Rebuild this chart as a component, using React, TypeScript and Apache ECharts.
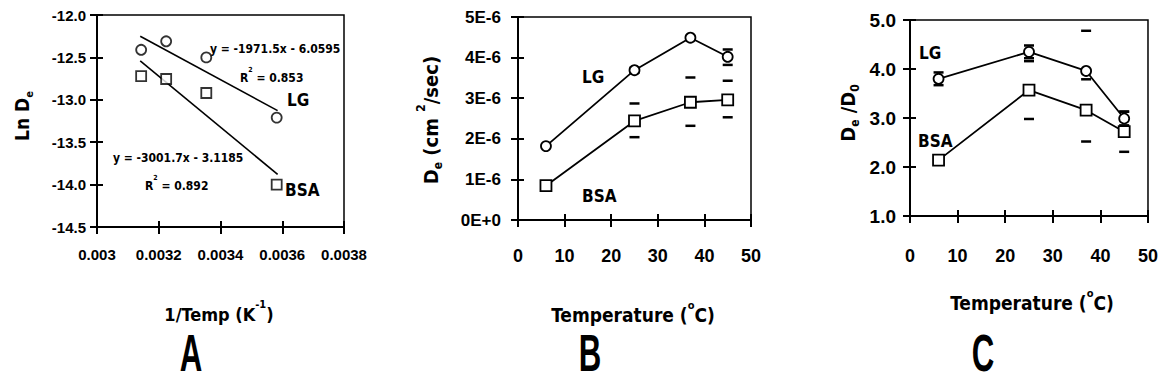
import React, { useEffect, useRef } from "react";
import * as echarts from "echarts";

// ---------- data ----------
const tempsC = [6, 25, 37, 45];
// panel A (Arrhenius plot)
const invTemp = [0.003582, 0.003354, 0.003224, 0.003143];
const lnDeLG = [-13.21, -12.5, -12.31, -12.41];
const lnDeBSA = [-14.0, -12.92, -12.755, -12.72];
const trendX = [0.00314, 0.003585];
const trendLG = [-12.25, -13.128];
const trendBSA = [-12.54, -13.88];
const aXTicks = [0.003, 0.0032, 0.0034, 0.0036, 0.0038];
// panel B (De, cm2/sec)
const deLG = [1.82e-6, 3.69e-6, 4.49e-6, 4.02e-6];
const deBSA = [0.845e-6, 2.44e-6, 2.9e-6, 2.96e-6];
const deErrLG = [[1.78e-6, 1.86e-6], [3.63e-6, 3.75e-6], [4.45e-6, 4.53e-6], [3.82e-6, 4.2e-6]];
const deErrBSA = [[0.8e-6, 0.89e-6], [2.04e-6, 2.87e-6], [2.32e-6, 3.51e-6], [2.53e-6, 3.43e-6]];
const bYLabels = ["0E+0", "1E-6", "2E-6", "3E-6", "4E-6", "5E-6"];
// panel C (De/D0)
const ratioLG = [3.8, 4.35, 3.96, 2.99];
const ratioBSA = [2.14, 3.57, 3.16, 2.72];
const ratioErrLG = [[3.67, 3.93], [4.22, 4.48], [3.14, 4.78], [2.85, 3.13]];
const ratioErrBSA = [[2.08, 2.2], [2.98, 4.16], [2.52, 3.79], [2.31, 3.13]];

const FONT = '"DejaVu Sans Condensed", "Liberation Sans Narrow", "Liberation Sans", sans-serif';
const TICKFONT = '"Liberation Sans", Arial, sans-serif';
const BLACK = "#000";

function axisPair(kind: "x" | "y", grid: number, min: number, max: number, interval: number, fmt: (v: number) => string, fontSize: number, margin: number) {
  const main: any = {
    type: "value",
    gridIndex: grid,
    min,
    max,
    interval,
    position: kind === "x" ? "bottom" : "left",
    axisLine: { show: true, onZero: false, lineStyle: { color: BLACK, width: 2 } },
    axisTick: { show: true, inside: false, length: 7, lineStyle: { color: BLACK, width: 2 } },
    splitLine: { show: false },
    axisLabel: { show: true, formatter: fmt, color: BLACK, fontFamily: TICKFONT, fontWeight: "bold", fontSize, margin, showMinLabel: true, showMaxLabel: true },
  };
  const inner: any = {
    type: "value",
    gridIndex: grid,
    min,
    max,
    interval,
    position: kind === "x" ? "bottom" : "left",
    axisLine: { show: false, onZero: false },
    axisTick: { show: true, inside: true, length: 6, lineStyle: { color: BLACK, width: 2 } },
    splitLine: { show: false },
    axisLabel: { show: false },
  };
  return [main, inner];
}

function capsRender(params: any, api: any) {
  const x = api.value(0);
  const lo = api.coord([x, api.value(1)]);
  const hi = api.coord([x, api.value(2)]);
  const w = 5;
  return {
    type: "group",
    children: [
      { type: "line", shape: { x1: lo[0] - w, y1: lo[1], x2: lo[0] + w, y2: lo[1] }, style: { stroke: BLACK, lineWidth: 2.5 } },
      { type: "line", shape: { x1: hi[0] - w, y1: hi[1], x2: hi[0] + w, y2: hi[1] }, style: { stroke: BLACK, lineWidth: 2.5 } },
    ],
  };
}

function capsSeries(axisIdx: number, err: number[][]) {
  return {
    type: "custom",
    xAxisIndex: axisIdx,
    yAxisIndex: axisIdx,
    renderItem: capsRender,
    clip: true,
    z: 1,
    data: tempsC.map((t, i) => [t, err[i][0], err[i][1]]),
    encode: { x: 0, y: [1, 2] },
  };
}

function markerLine(axisIdx: number, ys: number[], symbol: string, size: number) {
  return {
    type: "line",
    xAxisIndex: axisIdx,
    yAxisIndex: axisIdx,
    data: tempsC.map((t, i) => [t, ys[i]]),
    symbol,
    symbolSize: size,
    showSymbol: true,
    lineStyle: { color: BLACK, width: 1.8 },
    itemStyle: { color: "#fff", borderColor: BLACK, borderWidth: 1.8 },
    z: 3,
  };
}

function txt(text: string, x: number, y: number, fontSize: number, extra: any = {}) {
  return {
    type: "text",
    x,
    y,
    z: 10,
    rotation: extra.rotation || 0,
    style: {
      text,
      fill: BLACK,
      fontFamily: FONT,
      fontWeight: "bold",
      fontSize,
      textAlign: extra.align || "left",
      textVerticalAlign: "middle",
      rich: extra.rich,
    },
  };
}

const supRich = (fs: number) => ({
  n: { fontFamily: FONT, fontWeight: "bold", fontSize: fs, lineHeight: fs + 6, verticalAlign: "bottom", fill: BLACK },
  sup: { fontFamily: FONT, fontWeight: "bold", fontSize: Math.round(fs * 0.6), lineHeight: fs + 6, verticalAlign: "top", fill: BLACK },
  sub: { fontFamily: FONT, fontWeight: "bold", fontSize: Math.round(fs * 0.6), lineHeight: fs + 6, verticalAlign: "bottom", fill: BLACK, padding: [0, 0, -3, 0] },
});

function letter(t: string, x: number) {
  return {
    type: "text", x, y: 353, scaleX: 0.6, z: 10,
    style: { text: t, fill: BLACK, fontFamily: TICKFONT, fontWeight: "bold", fontSize: 52, textAlign: "center", textVerticalAlign: "middle" },
  };
}

export default function App() {
  const ref = useRef<HTMLDivElement>(null);
  useEffect(() => {
    if (!ref.current) return;
    const chart = echarts.init(ref.current, null, { renderer: "svg" });
    const xA = axisPair("x", 0, 0.003, 0.0038, 0.0002, (v) => String(aXTicks.find((t) => Math.abs(t - v) < 1e-8) ?? parseFloat(v.toFixed(4))), 15, 20);
    const yA = axisPair("y", 0, -14.5, -12, 0.5, (v) => v.toFixed(1), 15, 11);
    const xB = axisPair("x", 1, 0, 50, 10, (v) => String(v), 18, 27);
    const yB = axisPair("y", 1, 0, 5e-6, 1e-6, (v) => bYLabels[Math.round(v / 1e-6)], 17, 17);
    const xC = axisPair("x", 2, 0, 50, 10, (v) => String(v), 18, 31);
    const yC = axisPair("y", 2, 1, 5, 1, (v) => v.toFixed(1), 19, 14);

    const option: any = {
      animation: false,
      backgroundColor: "#fff",
      grid: [
        { left: 97, top: 15, width: 247, height: 212, show: true, borderColor: BLACK, borderWidth: 1.5, backgroundColor: "transparent" },
        { left: 518, top: 17, width: 233, height: 203, show: true, borderColor: BLACK, borderWidth: 1.5, backgroundColor: "transparent" },
        { left: 910, top: 20, width: 239, height: 196, show: true, borderColor: BLACK, borderWidth: 1.5, backgroundColor: "transparent" },
      ],
      xAxis: [...xA, ...xB, ...xC],
      yAxis: [...yA, ...yB, ...yC],
      series: [
        // panel A
        {
          type: "line", xAxisIndex: 0, yAxisIndex: 0, showSymbol: false, symbol: "none",
          data: trendX.map((x, i) => [x, trendLG[i]]), lineStyle: { color: BLACK, width: 1.6 }, z: 2,
        },
        {
          type: "line", xAxisIndex: 0, yAxisIndex: 0, showSymbol: false, symbol: "none",
          data: trendX.map((x, i) => [x, trendBSA[i]]), lineStyle: { color: BLACK, width: 1.6 }, z: 2,
        },
        {
          type: "scatter", xAxisIndex: 0, yAxisIndex: 0, symbol: "circle", symbolSize: 10,
          data: invTemp.map((x, i) => [x, lnDeLG[i]]), itemStyle: { color: "#fff", borderColor: BLACK, borderWidth: 1.8 }, z: 3,
        },
        {
          type: "scatter", xAxisIndex: 0, yAxisIndex: 0, symbol: "rect", symbolSize: 10,
          data: invTemp.map((x, i) => [x, lnDeBSA[i]]), itemStyle: { color: "#fff", borderColor: BLACK, borderWidth: 1.8 }, z: 3,
        },
        // panel B
        capsSeries(2, deErrLG),
        capsSeries(2, deErrBSA),
        markerLine(2, deLG, "circle", 10),
        markerLine(2, deBSA, "rect", 11),
        // panel C
        capsSeries(4, ratioErrLG),
        capsSeries(4, ratioErrBSA),
        markerLine(4, ratioLG, "circle", 10),
        markerLine(4, ratioBSA, "rect", 11),
      ],
      graphic: [
        // panel A annotations
        txt("y = -1971.5x - 6.0595", 210, 49, 12),
        txt("{n|R}{sup|2}{n| = 0.853}", 240, 75, 12, { rich: supRich(12) }),
        txt("LG", 287, 100, 17),
        txt("y = -3001.7x - 3.1185", 113, 158, 12),
        txt("{n|R}{sup|2}{n| = 0.892}", 145, 183, 12, { rich: supRich(12) }),
        txt("BSA", 285, 190, 17),
        // panel B labels
        txt("LG", 582, 77, 17),
        txt("BSA", 582, 196, 17),
        // panel C labels
        txt("LG", 919, 53, 17),
        txt("BSA", 918, 141, 17),
        // axis titles
        txt("{n|Ln D}{sub|e}", 19, 116, 19, { rotation: Math.PI / 2, align: "center", rich: supRich(19) }),
        txt("{n|D}{sub|e}{n| (cm }{sup|2}{n|/sec)}", 428, 120, 20, { rotation: Math.PI / 2, align: "center", rich: supRich(20) }),
        txt("{n|D}{sub|e}{n| /D}{sub|0}", 845, 113, 20, { rotation: Math.PI / 2, align: "center", rich: supRich(20) }),
        txt("{n|1/Temp (K}{sup|-1}{n|)}", 219, 311, 18, { align: "center", rich: supRich(18) }),
        txt("{n|Temperature (}{sup|o}{n|C)}", 633, 312, 19, { align: "center", rich: supRich(19) }),
        txt("{n|Temperature (}{sup|o}{n|C)}", 1032, 300, 19, { align: "center", rich: supRich(19) }),
        // panel letters
        letter("A", 191),
        letter("B", 590),
        letter("C", 983),
      ],
    };
    chart.setOption(option);
    return () => chart.dispose();
  }, []);
  return <div ref={ref} style={{ position: "absolute", left: 0, top: 0, width: 1161, height: 389, background: "#fff" }} />;
}
